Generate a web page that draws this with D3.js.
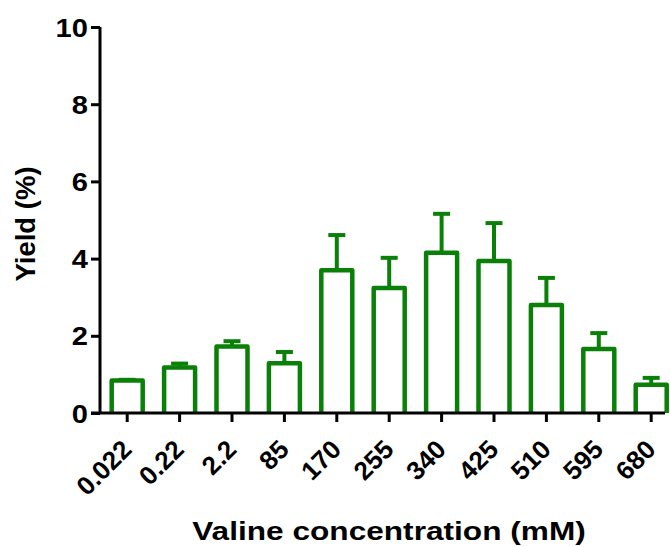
<!DOCTYPE html>
<html><head><meta charset="utf-8">
<script src="https://cdn.jsdelivr.net/npm/d3@7"></script>
<style>body{margin:0;background:#fff}svg text{font-family:"Liberation Sans",Arial,sans-serif;font-weight:bold}</style>
</head><body>
<svg id="c" width="670" height="547"></svg>
<script>
const categories = ["0.022","0.22","2.2","85","170","255","340","425","510","595","680"];
const means = [0.84, 1.18, 1.72, 1.29, 3.70, 3.24, 4.15, 3.94, 2.80, 1.66, 0.73];
const errors = [0.02, 0.10, 0.14, 0.29, 0.91, 0.78, 1.01, 0.98, 0.70, 0.41, 0.18];
const yTicks = [0, 2, 4, 6, 8, 10];

const svg = d3.select("#c");
const green = "#0a8009";
const x0 = 100, x1 = 665, yTop = 27, yBot = 413;
const step = 52.4;
const x = d3.scaleBand().domain(categories).range([x0 + 1, x0 + 1 + step * categories.length]).paddingInner(0.4).paddingOuter(0.2);
const y = d3.scaleLinear().domain([0, 10]).range([yBot, yTop]);

// bars
const g = svg.append("g");
categories.forEach((c, i) => {
  const cx = x(c) + x.bandwidth() / 2;
  const bw = 31;
  g.append("line").attr("x1", cx).attr("x2", cx).attr("y1", y(means[i])).attr("y2", y(means[i] + errors[i]))
    .attr("stroke", green).attr("stroke-width", 4);
  g.append("line").attr("x1", cx - 8.5).attr("x2", cx + 8.5).attr("y1", y(means[i] + errors[i])).attr("y2", y(means[i] + errors[i]))
    .attr("stroke", green).attr("stroke-width", 4);
  g.append("path")
    .attr("d", `M${cx - bw/2},${yBot} L${cx - bw/2},${y(means[i])} L${cx + bw/2},${y(means[i])} L${cx + bw/2},${yBot}`)
    .attr("fill", "#fff").attr("stroke", green).attr("stroke-width", 4.5).attr("stroke-linejoin", "round");
});

// y axis
const ya = svg.append("g").attr("transform", `translate(${x0},0)`)
  .call(d3.axisLeft(y).tickValues(yTicks).tickSize(9).tickFormat(d3.format("d")));
ya.select(".domain").attr("stroke-width", 3).attr("d", `M0,${yTop}V${yBot}`);
ya.selectAll(".tick line").attr("stroke-width", 3);
ya.selectAll(".tick text").attr("font-size", 26).attr("font-family", "Liberation Sans, Arial, sans-serif").attr("font-weight", "bold").attr("fill", "#000")
  .attr("x", 0).attr("dy", "0.35em").attr("transform", `translate(-12,0) scale(1.12,1)`);

// x axis
const xa = svg.append("g").attr("transform", `translate(0,${yBot})`)
  .call(d3.axisBottom(x).tickSize(9).tickSizeOuter(0));
xa.select(".domain").attr("stroke-width", 3).attr("d", `M${x0 - 9},0H${x1}`);
xa.selectAll(".tick line").attr("stroke-width", 3);
xa.selectAll(".tick text").attr("font-size", 26).attr("font-family", "Liberation Sans, Arial, sans-serif").attr("font-weight", "bold").attr("fill", "#000")
  .attr("text-anchor", "end").attr("dy", 0).attr("y", 0)
  .attr("transform", `translate(6,38) rotate(-45)`);

// titles
svg.append("text").attr("transform", `translate(35,${(yTop + yBot) / 2 + 4}) rotate(-90)`).attr("text-anchor", "middle")
  .attr("font-size", 27.5).text("Yield (%)");
svg.append("text").attr("transform", `translate(389,540) scale(1.24,1)`).attr("text-anchor", "middle").attr("font-size", 25.5).text("Valine concentration (mM)");
</script>
</body></html>
